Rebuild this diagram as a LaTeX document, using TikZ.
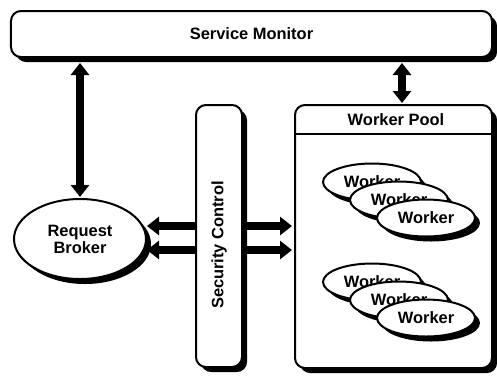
\documentclass[tikz,border=0pt]{standalone}
\usepackage{fontspec}
\setmainfont{Liberation Sans}
\usetikzlibrary{arrows.meta,shadows,shapes.geometric}
\begin{document}
\begin{tikzpicture}[x=1bp,y=-1bp,
  lbl/.style={font=\bfseries\fontsize{16.5}{17}\selectfont},
  shad/.style={drop shadow={shadow xshift=5bp,shadow yshift=-5bp,opacity=1,fill=black}},
  box/.style={draw=black,line width=2bp,fill=white,rounded corners=10bp,inner sep=0pt,shad,lbl},
  oval/.style={ellipse,draw=black,line width=2bp,fill=white,inner sep=0pt,shad,lbl},
  tipx/.tip={Triangle[width=18bp,length=12bp]},
  bigarrow/.style={line width=8bp,-tipx},
  dblarrow/.style={line width=8bp,tipx-tipx}
]
\useasboundingbox (0,0) rectangle (497,376);

\node[box,minimum width=481bp,minimum height=46bp] (sm) at (251.5,34) {Service Monitor};

\node[box,minimum width=46bp,minimum height=262bp] (sc) at (219,236) {};
\node[lbl,rotate=90] (sct) at (219,245) {Security Control};

\node[box,minimum width=197bp,minimum height=263bp] (pool) at (393.5,236.5) {};
\node[lbl] (poolt) at (396,120) {Worker Pool};
\coordinate (hl) at (0,134);
\draw[line width=2bp] (pool.west |- hl) -- (pool.east |- hl);

\node[oval,minimum width=132bp,minimum height=80bp,align=center] (broker) at (80,239) {Request\\Broker};

\node[oval,minimum width=98bp,minimum height=37bp] (w1) at (372,182) {Worker};
\node[oval,minimum width=98bp,minimum height=37bp] (w2) at (399,200) {Worker};
\node[oval,minimum width=98bp,minimum height=37bp] (w3) at (426,218) {Worker};
\node[oval,minimum width=98bp,minimum height=37bp] (w4) at (372,282) {Worker};
\node[oval,minimum width=98bp,minimum height=37bp] (w5) at (399,300) {Worker};
\node[oval,minimum width=98bp,minimum height=37bp] (w6) at (426,318) {Worker};

\coordinate (pa) at (402,0);
\coordinate (r1) at (0,226);
\coordinate (r2) at (0,250);

\draw[dblarrow] ([yshift=-5bp]sm.south -| broker.north) -- ([yshift=1bp]broker.north);
\draw[dblarrow] ([yshift=-5bp]sm.south -| pa) -- ([yshift=1bp]pool.north -| pa);

\draw[bigarrow] (sc.west |- r1) -- (broker.east |- r1);
\draw[bigarrow] (sc.west |- r2) -- (broker.east |- r2);
\draw[bigarrow] (sc.east |- r1) -- ([xshift=-2bp]pool.west |- r1);
\draw[bigarrow] (sc.east |- r2) -- ([xshift=-2bp]pool.west |- r2);
\end{tikzpicture}
\end{document}
